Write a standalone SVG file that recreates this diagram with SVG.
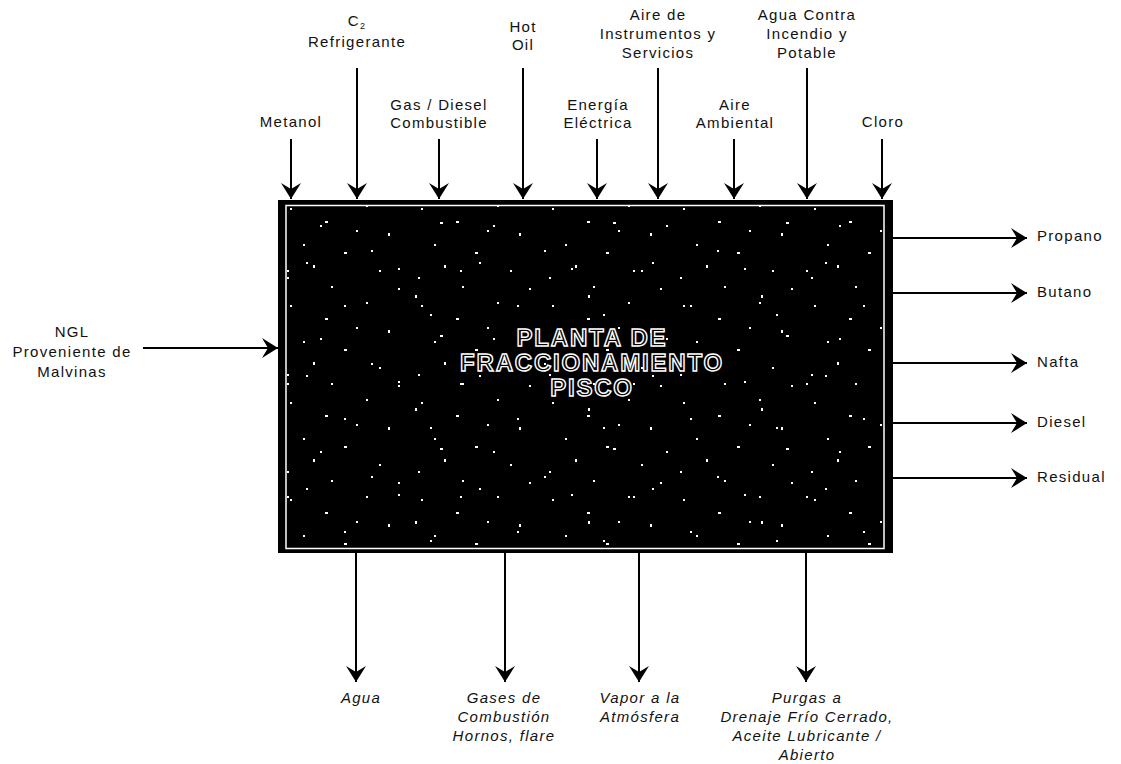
<svg xmlns="http://www.w3.org/2000/svg" width="1121" height="764" viewBox="0 0 1121 764">
  <style>
    .lbl { font-family: "Liberation Sans", Arial, sans-serif; font-size: 15px; letter-spacing: 1.3px; fill: #111; text-anchor: middle; }
    .lft { text-anchor: start; }
    .it { font-style: italic; }
    .ttl { font-family: "Liberation Sans", Arial, sans-serif; font-size: 24px; font-weight: bold; letter-spacing: 1.8px; fill: #000; stroke: #fff; stroke-width: 1.4px; text-anchor: middle; }
    .con { stroke: #000; stroke-width: 2; fill: none; marker-end: url(#ah); }
  </style>
  <defs>
    <marker id="ah" viewBox="-17 -11 18 22" refX="0" refY="0" markerWidth="18" markerHeight="22" markerUnits="userSpaceOnUse" orient="auto">
      <path d="M0,0 L-16,-10 L-10,0 L-16,10 Z" fill="#000"/>
    </marker>
    <pattern id="spk1" x="278" y="200" width="131" height="97" patternUnits="userSpaceOnUse">
      <g fill="#fff">
        <rect x="12" y="8" width="2" height="2"/><rect x="47" y="21" width="3" height="2"/>
        <rect x="88" y="5" width="2" height="2"/><rect x="110" y="33" width="2" height="3"/>
        <rect x="25" y="44" width="2" height="2"/><rect x="66" y="52" width="3" height="2"/>
        <rect x="101" y="70" width="2" height="2"/><rect x="9" y="77" width="2" height="2"/>
        <rect x="53" y="86" width="2" height="2"/><rect x="120" y="88" width="2" height="2"/>
        <rect x="78" y="30" width="2" height="2"/><rect x="35" y="65" width="2" height="3"/>
      </g>
    </pattern>
    <pattern id="spk2" x="300" y="210" width="173" height="113" patternUnits="userSpaceOnUse">
      <g fill="#fff">
        <rect x="20" y="15" width="2" height="2"/><rect x="71" y="40" width="2" height="2"/>
        <rect x="140" y="12" width="3" height="2"/><rect x="160" y="60" width="2" height="2"/>
        <rect x="44" y="95" width="2" height="2"/><rect x="115" y="85" width="2" height="3"/>
        <rect x="98" y="58" width="2" height="2"/><rect x="6" y="52" width="2" height="2"/>
        <rect x="130" y="104" width="2" height="2"/>
      </g>
    </pattern>
  </defs>

  <g id="planta">
    <rect x="278" y="200" width="615" height="353" fill="#000"/>
    <rect x="287" y="206" width="597" height="342" fill="url(#spk1)"/>
    <rect x="287" y="206" width="597" height="342" fill="url(#spk2)"/>
    <rect x="286" y="205.5" width="598" height="343" fill="none" stroke="#fff" stroke-width="1.5"/>
    <text class="ttl" x="592" y="346">PLANTA DE</text>
    <text class="ttl" x="592" y="371">FRACCIONAMIENTO</text>
    <text class="ttl" x="592" y="396">PISCO</text>
  </g>

  <g id="connectors">
    <line class="con" x1="291" y1="139" x2="291" y2="199"/>
    <line class="con" x1="357" y1="68" x2="357" y2="199"/>
    <line class="con" x1="439" y1="139" x2="439" y2="199"/>
    <line class="con" x1="523" y1="68" x2="523" y2="199"/>
    <line class="con" x1="597" y1="139" x2="597" y2="199"/>
    <line class="con" x1="658" y1="68" x2="658" y2="199"/>
    <line class="con" x1="734" y1="139" x2="734" y2="199"/>
    <line class="con" x1="807" y1="68" x2="807" y2="199"/>
    <line class="con" x1="882" y1="139" x2="882" y2="199"/>
    <line class="con" x1="143" y1="348" x2="278" y2="348"/>
    <line class="con" x1="893" y1="238" x2="1027" y2="238"/>
    <line class="con" x1="893" y1="293" x2="1027" y2="293"/>
    <line class="con" x1="893" y1="363" x2="1027" y2="363"/>
    <line class="con" x1="893" y1="423" x2="1027" y2="423"/>
    <line class="con" x1="893" y1="478" x2="1027" y2="478"/>
    <line class="con" x1="356" y1="553" x2="356" y2="682"/>
    <line class="con" x1="505" y1="553" x2="505" y2="682"/>
    <line class="con" x1="639" y1="553" x2="639" y2="682"/>
    <line class="con" x1="806" y1="553" x2="806" y2="682"/>
  </g>

  <g id="in-metanol"><text class="lbl" x="291" y="127">Metanol</text></g>
  <g id="in-c2">
    <text class="lbl" x="357" y="26">C<tspan font-size="9" dy="3">2</tspan></text>
    <text class="lbl" x="357" y="47">Refrigerante</text>
  </g>
  <g id="in-gas">
    <text class="lbl" x="439" y="110">Gas / Diesel</text>
    <text class="lbl" x="439" y="128">Combustible</text>
  </g>
  <g id="in-hotoil">
    <text class="lbl" x="523" y="32">Hot</text>
    <text class="lbl" x="523" y="50">Oil</text>
  </g>
  <g id="in-energia">
    <text class="lbl" x="598" y="110">Energía</text>
    <text class="lbl" x="598" y="128">Eléctrica</text>
  </g>
  <g id="in-aire-instr">
    <text class="lbl" x="658" y="20">Aire de</text>
    <text class="lbl" x="658" y="39">Instrumentos y</text>
    <text class="lbl" x="658" y="58">Servicios</text>
  </g>
  <g id="in-aire-amb">
    <text class="lbl" x="735" y="110">Aire</text>
    <text class="lbl" x="735" y="128">Ambiental</text>
  </g>
  <g id="in-agua">
    <text class="lbl" x="807" y="20">Agua Contra</text>
    <text class="lbl" x="807" y="39">Incendio y</text>
    <text class="lbl" x="807" y="58">Potable</text>
  </g>
  <g id="in-cloro"><text class="lbl" x="883" y="127">Cloro</text></g>

  <g id="in-ngl">
    <text class="lbl" x="72" y="337">NGL</text>
    <text class="lbl" x="72" y="357">Proveniente de</text>
    <text class="lbl" x="72" y="377">Malvinas</text>
  </g>

  <g id="out-propano"><text class="lbl lft" x="1037" y="241">Propano</text></g>
  <g id="out-butano"><text class="lbl lft" x="1037" y="297">Butano</text></g>
  <g id="out-nafta"><text class="lbl lft" x="1037" y="367">Nafta</text></g>
  <g id="out-diesel"><text class="lbl lft" x="1037" y="427">Diesel</text></g>
  <g id="out-residual"><text class="lbl lft" x="1037" y="482">Residual</text></g>

  <g id="out-agua"><text class="lbl it" x="361" y="703">Agua</text></g>
  <g id="out-gases">
    <text class="lbl it" x="504" y="703">Gases de</text>
    <text class="lbl it" x="504" y="722">Combustión</text>
    <text class="lbl it" x="504" y="741">Hornos, flare</text>
  </g>
  <g id="out-vapor">
    <text class="lbl it" x="640" y="703">Vapor a la</text>
    <text class="lbl it" x="640" y="722">Atmósfera</text>
  </g>
  <g id="out-purgas">
    <text class="lbl it" x="807" y="703">Purgas a</text>
    <text class="lbl it" x="807" y="722">Drenaje Frío Cerrado,</text>
    <text class="lbl it" x="807" y="741">Aceite Lubricante /</text>
    <text class="lbl it" x="807" y="760">Abierto</text>
  </g>
</svg>
